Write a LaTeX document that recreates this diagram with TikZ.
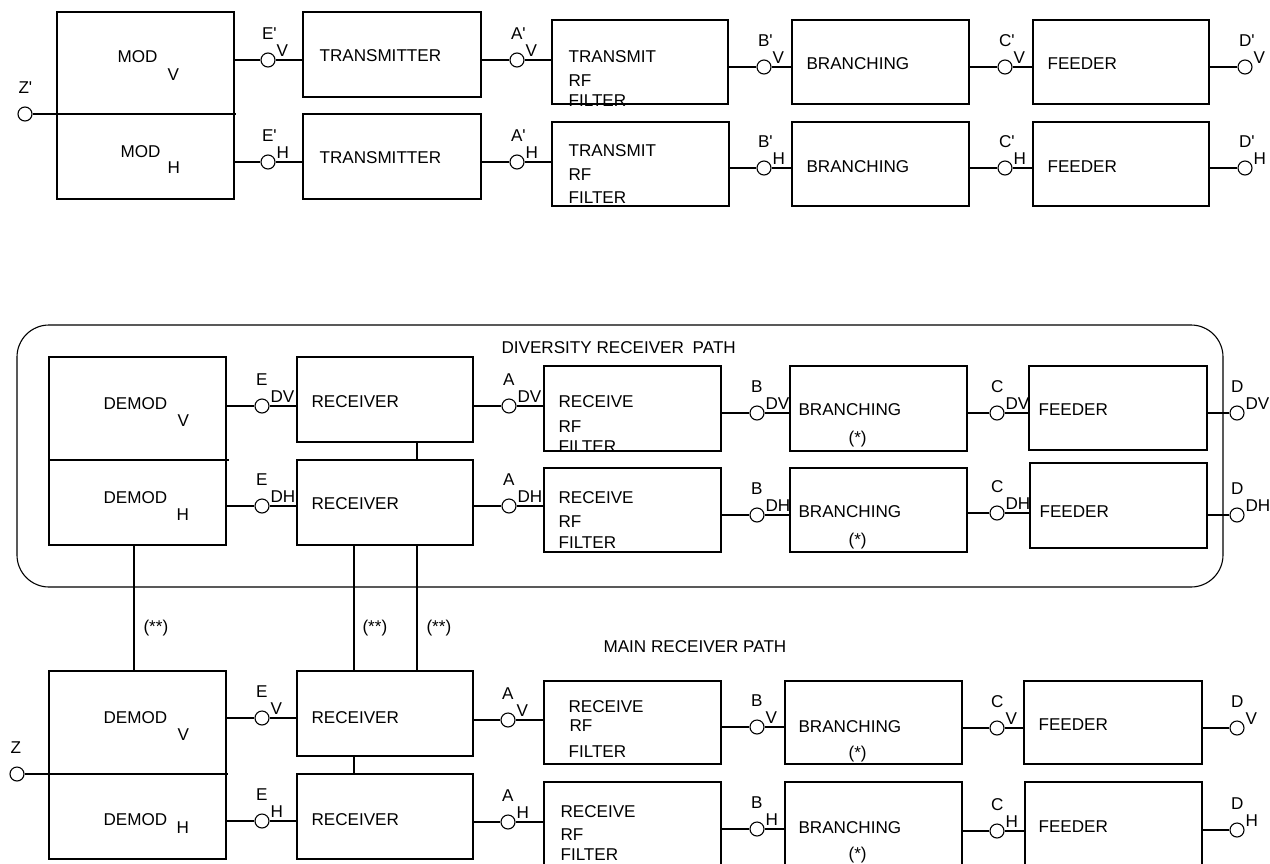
\documentclass[tikz,border=0pt]{standalone}
\usepackage{fontspec}
\setmainfont{Liberation Sans}
\usetikzlibrary{fit}

\tikzset{
  box/.style={draw, rectangle, inner sep=0pt},
  port/.style={draw, circle, minimum size=7pt, inner sep=0pt, fill=white},
  txt/.style={anchor=base west, inner sep=0pt},
}

\begin{document}
\begin{tikzpicture}[x=0.5pt, y=-0.5pt, line width=0.55pt, font=\fontsize{8.55}{10}\selectfont]
\useasboundingbox (0,0) rectangle (1270,863);

% transmit side
\node[box, fit={(57,12) (234,199)}] (mod) {};
\node[box, fit={(303,12) (481,97)}] (tx-tV) {};
\node[box, fit={(303,114) (481,199)}] (tx-tH) {};
\node[box, fit={(552,20) (728,104)}] (rf-tV) {};
\node[box, fit={(552,122) (729,206)}] (rf-tH) {};
\node[box, fit={(792,20) (969,104)}] (br-tV) {};
\node[box, fit={(792,122) (969,206)}] (br-tH) {};
\node[box, fit={(1033,20) (1209,104)}] (fd-tV) {};
\node[box, fit={(1033,122) (1209,206)}] (fd-tH) {};

% diversity receiver path
\node[box, rounded corners=16pt, fit={(17,325) (1223,587)}] (frame) {};
\node[box, fit={(49,357) (226,545)}] (dem-d) {};
\node[box, fit={(297,357) (473,442)}] (rx-dV) {};
\node[box, fit={(297,460) (473,545)}] (rx-dH) {};
\node[box, fit={(544,366) (721,451)}] (rf-dV) {};
\node[box, fit={(544,468) (721,552)}] (rf-dH) {};
\node[box, fit={(790,366) (967,451)}] (br-dV) {};
\node[box, fit={(790,468) (967,552)}] (br-dH) {};
\node[box, fit={(1029,366) (1207,450)}] (fd-dV) {};
\node[box, fit={(1030,463) (1207,548)}] (fd-dH) {};

% main receiver path
\node[box, fit={(49,671) (226,859)}] (dem-m) {};
\node[box, fit={(297,671) (473,756)}] (rx-mV) {};
\node[box, fit={(297,774) (473,859)}] (rx-mH) {};
\node[box, fit={(544,681) (721,764)}] (rf-mV) {};
\node[box, fit={(544,782) (721,870)}] (rf-mH) {};
\node[box, fit={(785,681) (962,764)}] (br-mV) {};
\node[box, fit={(785,782) (962,870)}] (br-mH) {};
\node[box, fit={(1024,681) (1202,764)}] (fd-mV) {};
\node[box, fit={(1025,782) (1202,870)}] (fd-mH) {};

% ports with their labels
\foreach \n/\x/\y/\pl/\ps in {
  epv/268/60/E\textquotesingle/V, apv/517/60/A\textquotesingle/V, bpv/764/67/B\textquotesingle/V,
  cpv/1005/67/C\textquotesingle/V, dpv/1245/67/D\textquotesingle/V,
  eph/268/162/E\textquotesingle/H, aph/517/162/A\textquotesingle/H, bph/764/168/B\textquotesingle/H,
  cph/1005/168/C\textquotesingle/H, dph/1245/168/D\textquotesingle/H,
  edv/262/406/E/DV, adv/509/406/A/DV, bdv/757/413/B/DV, cdv/997/413/C/DV, ddv/1237/413/D/DV,
  edh/262/506/E/DH, adh/509/506/A/DH, bdh/757/515/B/DH, cdh/997/513/C/DH, ddh/1237/515/D/DH,
  ev/262/718/E/V, av/508/720/A/V, bv/757/727/B/V, cv/997/728/C/V, dv/1237/728/D/V,
  eh/262/821/E/H, ah/508/822/A/H, bh/757/829/B/H, ch/997/831/C/H, dh/1237/830/D/H}
{
  \node[port] (\n) at (\x,\y) {};
  \node[txt] (\n-l) at (\x-6.5,\y-21) {\pl};
  \node[txt] (\n-s) at (\x+8,\y-4) {\ps};
}

% connectors between boxes and ports
\foreach \a/\p/\b in {
  mod/epv/tx-tV, tx-tV/apv/rf-tV, rf-tV/bpv/br-tV, br-tV/cpv/fd-tV,
  mod/eph/tx-tH, tx-tH/aph/rf-tH, rf-tH/bph/br-tH, br-tH/cph/fd-tH,
  dem-d/edv/rx-dV, rx-dV/adv/rf-dV, rf-dV/bdv/br-dV, br-dV/cdv/fd-dV,
  dem-d/edh/rx-dH, rx-dH/adh/rf-dH, rf-dH/bdh/br-dH, br-dH/cdh/fd-dH,
  dem-m/ev/rx-mV, rx-mV/av/rf-mV, rf-mV/bv/br-mV, br-mV/cv/fd-mV,
  dem-m/eh/rx-mH, rx-mH/ah/rf-mH, rf-mH/bh/br-mH, br-mH/ch/fd-mH}
{
  \draw (\a.east |- \p) -- (\p.west);
  \draw (\p.east) -- (\b.west |- \p);
}
\foreach \a/\p in {fd-tV/dpv, fd-tH/dph, fd-dV/ddv, fd-dH/ddh, fd-mV/dv, fd-mH/dh}
  \draw (\a.east |- \p) -- (\p.west);

% split inputs
\node[port] (zp) at (25,114) {};
\coordinate (zp-end) at (236,114);
\draw (zp.east) -- (zp-end);
\coordinate (dd-a) at (49,460);
\coordinate (dd-b) at (229,460);
\draw (dd-a) -- (dd-b);
\node[port] (z) at (17,774) {};
\coordinate (z-end) at (228,774);
\draw (z.east) -- (z-end);

% cross links
\coordinate (c134) at (134,0);
\coordinate (c354) at (354,0);
\coordinate (c417) at (417,0);
\draw (rx-dV.south -| c417) -- (rx-dH.north -| c417);
\draw (rx-mV.south -| c354) -- (rx-mH.north -| c354);
\draw (dem-d.south -| c134) -- (dem-m.north -| c134);
\draw (rx-dH.south -| c354) -- (rx-mV.north -| c354);
\draw (rx-dH.south -| c417) -- (rx-mV.north -| c417);

% texts
\node[txt] (zp-t) at (18,93) {Z\textquotesingle};
\node[txt] (mod-v) at (117,62) {MOD};
\node[txt] (mod-vs) at (167,80) {V};
\node[txt] (mod-h) at (120,157) {MOD};
\node[txt] (mod-hs) at (167,173) {H};
\node[txt] (tx-tV-t) at (319,61) {TRANSMITTER};
\node[txt] (tx-tH-t) at (319,163) {TRANSMITTER};
\node[txt] (rf-tV-1) at (568,62) {TRANSMIT};
\node[txt] (rf-tV-2) at (568,86) {RF};
\node[txt] (rf-tV-3) at (568,106) {FILTER};
\node[txt] (rf-tH-1) at (568,156) {TRANSMIT};
\node[txt] (rf-tH-2) at (568,180) {RF};
\node[txt] (rf-tH-3) at (568,203) {FILTER};
\node[txt] (br-tV-t) at (806,69) {BRANCHING};
\node[txt] (br-tH-t) at (806,172) {BRANCHING};
\node[txt] (fd-tV-t) at (1047,69) {FEEDER};
\node[txt] (fd-tH-t) at (1047,172) {FEEDER};

\node[txt] (frame-t) at (501,353) {DIVERSITY RECEIVER\hspace{2pt} PATH};
\node[txt] (dem-dv) at (103,409) {DEMOD};
\node[txt] (dem-dvs) at (177,426) {V};
\node[txt] (dem-dh) at (103,503) {DEMOD};
\node[txt] (dem-dhs) at (176,520) {H};
\node[txt] (rx-dV-t) at (311,407) {RECEIVER};
\node[txt] (rx-dH-t) at (311,509) {RECEIVER};
\node[txt] (rf-dV-1) at (558,407) {RECEIVE};
\node[txt] (rf-dV-2) at (558,432) {RF};
\node[txt] (rf-dV-3) at (558,452) {FILTER};
\node[txt] (rf-dH-1) at (558,503) {RECEIVE};
\node[txt] (rf-dH-2) at (558,527) {RF};
\node[txt] (rf-dH-3) at (558,548) {FILTER};
\node[txt] (br-dV-t) at (798,415) {BRANCHING};
\node[txt] (br-dV-s) at (848,443) {(*)};
\node[txt] (br-dH-t) at (798,517) {BRANCHING};
\node[txt] (br-dH-s) at (848,545) {(*)};
\node[txt] (fd-dV-t) at (1038,415) {FEEDER};
\node[txt] (fd-dH-t) at (1039,517) {FEEDER};

\node[txt] (lk1) at (143,632) {(**)};
\node[txt] (lk2) at (362,632) {(**)};
\node[txt] (lk3) at (426,632) {(**)};
\node[txt] (main-t) at (603,652) {MAIN RECEIVER PATH};
\node[txt] (z-t) at (10,753) {Z};
\node[txt] (dem-mv) at (103,723) {DEMOD};
\node[txt] (dem-mvs) at (177,740) {V};
\node[txt] (dem-mh) at (103,825) {DEMOD};
\node[txt] (dem-mhs) at (176,833) {H};
\node[txt] (rx-mV-t) at (311,723) {RECEIVER};
\node[txt] (rx-mH-t) at (311,825) {RECEIVER};
\node[txt] (rf-mV-1) at (568,712) {RECEIVE};
\node[txt] (rf-mV-2) at (569,731) {RF};
\node[txt] (rf-mV-3) at (568,757) {FILTER};
\node[txt] (rf-mH-1) at (560,817) {RECEIVE};
\node[txt] (rf-mH-2) at (560,840) {RF};
\node[txt] (rf-mH-3) at (560,860) {FILTER};
\node[txt] (br-mV-t) at (798,732) {BRANCHING};
\node[txt] (br-mV-s) at (848,758) {(*)};
\node[txt] (br-mH-t) at (798,833) {BRANCHING};
\node[txt] (br-mH-s) at (848,859) {(*)};
\node[txt] (fd-mV-t) at (1038,730) {FEEDER};
\node[txt] (fd-mH-t) at (1038,832) {FEEDER};
\end{tikzpicture}
\end{document}
